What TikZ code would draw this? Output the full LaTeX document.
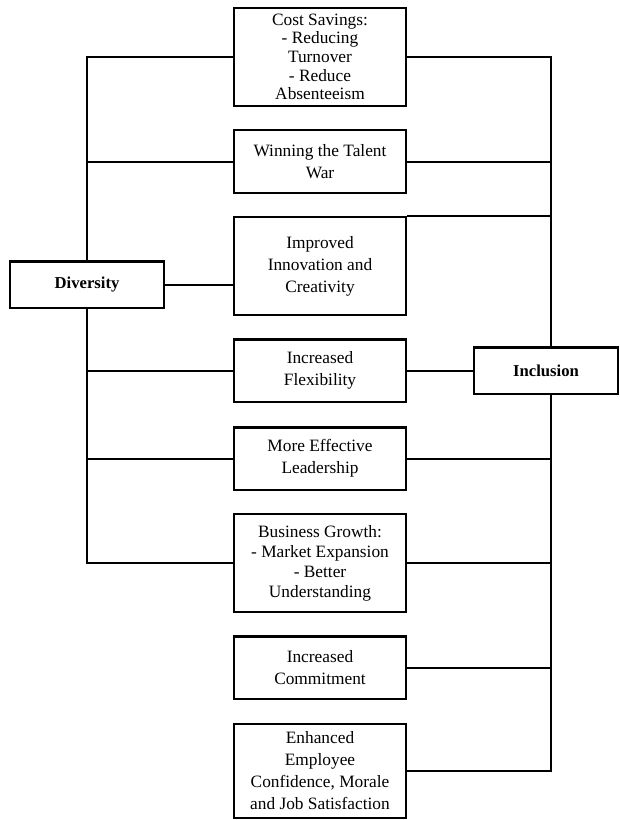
\documentclass[tikz,border=0pt]{standalone}
\usepackage{fontspec}
\setmainfont{Liberation Serif}
\usetikzlibrary{calc}

\tikzset{
  benefit/.style={rectangle, draw=black, fill=white, line width=2pt, minimum width=129pt, inner sep=2pt, align=center, font=\fontsize{13}{16.5}\selectfont},
  pillar/.style={rectangle, draw=black, fill=white, line width=2pt, minimum height=35pt, inner sep=2pt, font=\fontsize{12.5}{14}\selectfont\bfseries},
  link/.style={draw=black, line width=1.5pt},
}

\begin{document}
\begin{tikzpicture}
    [x=0.75pt, y=-0.75pt,  % pixel grid, y downwards
    ]
\useasboundingbox (0,0) rectangle (619,820);

% the two sides
\node[pillar, minimum width=115.5pt] (node_diversity) at (87,284.5) {Diversity};
\node[pillar, minimum width=108pt] (node_inclusion) at (546,370.5) {Inclusion};
\coordinate (bus) at (551,0);

% benefits in the middle column
\node[benefit, minimum height=73.5pt, font=\fontsize{13}{14}\selectfont] (node_cost) at (320,57) {Cost Savings:\\- Reducing\\Turnover\\- Reduce\\Absenteeism};
\node[benefit, minimum height=47pt] (node_talent) at (320,161.5) {Winning the Talent\\War};
\node[benefit, minimum height=73.5pt] (node_innovation) at (320,266) {Improved\\Innovation and\\Creativity};
\node[benefit, minimum height=47pt] (node_flexibility) at (320,370.5) {Increased\\Flexibility};
\node[benefit, minimum height=47pt] (node_leadership) at (320,458.5) {More Effective\\Leadership};
\node[benefit, minimum height=73.5pt, font=\fontsize{13}{15}\selectfont] (node_growth) at (320,563) {Business Growth:\\- Market Expansion\\- Better\\Understanding};
\node[benefit, minimum height=47pt] (node_commitment) at (320,667.5) {Increased\\Commitment};
\node[benefit, minimum height=70.5pt] (node_morale) at (320,771) {Enhanced\\Employee\\Confidence, Morale\\and Job Satisfaction};

% diversity bus on the left
\draw[link] (node_cost.west) -| (node_diversity.north);
\draw[link] (node_talent.west) -- (node_talent.west -| node_diversity.north);
\draw[link] (node_diversity.east) -- (node_diversity.east -| node_innovation.west);
\draw[link] (node_diversity.south) |- (node_growth.west);
\draw[link] (node_flexibility.west) -- (node_flexibility.west -| node_diversity.south);
\draw[link] (node_leadership.west) -- (node_leadership.west -| node_diversity.south);

% inclusion bus on the right
\draw[link] (node_cost.east) -| (bus |- node_inclusion.north);
\draw[link] (node_talent.east) -- (node_talent.east -| bus);
\draw[link] (node_innovation.north east) -- (node_innovation.north east -| bus);
\draw[link] (node_flexibility.east) -- (node_inclusion.west);
\draw[link] (node_morale.east) -| (bus |- node_inclusion.south);
\draw[link] (node_leadership.east) -- (node_leadership.east -| bus);
\draw[link] (node_growth.east) -- (node_growth.east -| bus);
\draw[link] (node_commitment.east) -- (node_commitment.east -| bus);

\end{tikzpicture}
\end{document}
